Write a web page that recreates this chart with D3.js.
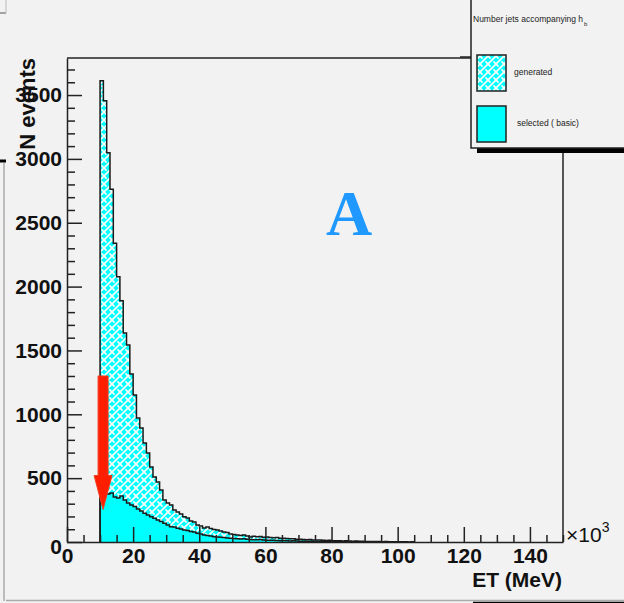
<!DOCTYPE html>
<html>
<head>
<meta charset="utf-8">
<script src="https://cdn.jsdelivr.net/npm/d3@7"></script>
<style>
html,body{margin:0;padding:0;background:#f2f2f2;}
svg{display:block;}
</style>
</head>
<body>
<svg id="chart" width="624" height="603"></svg>
<script>
// ---- data (ET in units of 10^3 MeV, 1-unit bins starting at 10) ----
const binStart = 10;
const binWidth = 1;
const generated = [3612,3456,3049,2762,2339,2078,1890,1637,1543,1316,1151,971,893,775,697,587,509,470,407,329,
  305,290,250,235,219,198,188,164,157,133,125,110,117,106,98,94,86,78,74,63,
  59,55,51,55,47,39,45,42,44,38,40,36,33,35,30,29,27,25,26,22,
  22,20,18,19,16,15,16,13,12,13,10,10,9,8,9,7,6,7,5,5,
  4,4,3,4,3,2,3,2,2,1,2,1,1,0,1];
const selected = [391,407,376,384,352,345,360,329,305,290,278,258,243,225,211,198,186,172,161,146,
  133,120,117,107,102,94,90,82,78,68,63,55,51,47,42,39,37,35,31,30,
  28,26,24,25,22,20,18,17,19,15,14,13,14,11,10,11,9,8,9,7,
  6,6,5,5,4,4,3,4,3,2,3,2,2,1,2,1,1,1,0,1];
const xTickLabels = [0,20,40,60,80,100,120,140];
const yTickLabels = [0,500,1000,1500,2000,2500,3000,3500];
const xDomain = [0,150];
const yDomain = [0,3790];
const legendTitle = "Number jets accompanying h";
const legendTitleSub = "b";
const legendLabels = ["generated","selected ( basic)"];
const xTitle = "ET (MeV)";
const yTitle = "N events";
const annotation = "A";
const arrowFromTo = [1300, 270]; // arrow at ET ~ 11, from N=1300 down to N=270

const svg = d3.select("#chart");
const W = 624, H = 603;
svg.append("rect").attr("width",W).attr("height",H).attr("fill","#f2f2f2");

const x = d3.scaleLinear().domain(xDomain).range([67,563]);
const y = d3.scaleLinear().domain(yDomain).range([542,58]);

// pattern for generated
const defs = svg.append("defs");
const pat = defs.append("pattern").attr("id","weave").attr("patternUnits","userSpaceOnUse")
  .attr("width",8).attr("height",8);
pat.append("rect").attr("width",8).attr("height",8).attr("fill","#00ffff");
pat.append("path").attr("d","M-1,9L9,-1").attr("stroke","#ffffff").attr("stroke-width",1.6);
pat.append("path").attr("d","M0,0L2.6,2.6M5.4,5.4L8,8").attr("stroke","#ffffff").attr("stroke-width",1.6);

// screenshot frame artifacts
svg.append("line").attr("x1",0).attr("x2",6).attr("y1",13).attr("y2",13).attr("stroke","#555").attr("stroke-width",1);
svg.append("line").attr("x1",6).attr("x2",6).attr("y1",0).attr("y2",13).attr("stroke","#bbb").attr("stroke-width",1);
svg.append("line").attr("x1",0).attr("x2",6).attr("y1",161).attr("y2",161).attr("stroke","#000").attr("stroke-width",3);
svg.append("line").attr("x1",4).attr("x2",4).attr("y1",163).attr("y2",601).attr("stroke","#aaa").attr("stroke-width",1.5);
svg.append("line").attr("x1",6).attr("x2",W).attr("y1",600.5).attr("y2",600.5).attr("stroke","#aaa").attr("stroke-width",1.5);
svg.append("line").attr("x1",473).attr("x2",W).attr("y1",602.5).attr("y2",602.5).attr("stroke","#000").attr("stroke-width",1.5);

// histogram helpers
function stepPoints(vals){
  const pts = [[x(binStart), y(0)]];
  vals.forEach((v,i)=>{
    pts.push([x(binStart+i*binWidth), y(v)]);
    pts.push([x(binStart+(i+1)*binWidth), y(v)]);
  });
  pts.push([x(binStart+vals.length*binWidth), y(0)]);
  return pts;
}
const line = d3.line();

const gPts = stepPoints(generated);
svg.append("path").attr("d", line(gPts)+"Z").attr("fill","url(#weave)").attr("stroke","none");
const sPts = stepPoints(selected);
svg.append("path").attr("d", line(sPts)+"Z").attr("fill","#00ffff").attr("stroke","none");
svg.append("path").attr("d", line(gPts)).attr("fill","none").attr("stroke","#1a1a1a").attr("stroke-width",1.5).attr("stroke-linejoin","miter");
svg.append("path").attr("d", line(sPts)).attr("fill","none").attr("stroke","#1a1a1a").attr("stroke-width",1.5).attr("stroke-linejoin","miter");

// frame
svg.append("path").attr("d",`M${x(0)},${y(yDomain[1])}L471,${y(yDomain[1])}`).attr("stroke","#222").attr("stroke-width",1.5).attr("fill","none");
svg.append("path").attr("d",`M${x(150)},153L${x(150)},${y(0)}`).attr("stroke","#222").attr("stroke-width",1.5).attr("fill","none");

const labelFont = "'Liberation Sans', Arial, Helvetica, sans-serif";

// y axis
const yAxis = d3.axisLeft(y).tickValues(yTickLabels).tickFormat(d3.format("d")).tickSize(-15).tickSizeOuter(0).tickPadding(5);
const gy = svg.append("g").attr("transform",`translate(${x(0)},0)`).call(yAxis);
gy.selectAll("text").attr("font-family",labelFont).attr("font-weight","bold").attr("font-size",21).attr("fill","#111");
gy.select(".domain").attr("stroke","#222").attr("stroke-width",1.5);
gy.selectAll(".tick line").attr("stroke","#222").attr("stroke-width",1.5);
gy.selectAll(".tick text").filter(d=>d===0).attr("dy","0.55em");
const yMinor = d3.axisLeft(y).tickValues(d3.range(0,yDomain[1],100).filter(v=>v%500!==0)).tickSize(-8).tickSizeOuter(0).tickFormat("");
const gym = svg.append("g").attr("transform",`translate(${x(0)},0)`).call(yMinor);
gym.select(".domain").remove();
gym.selectAll(".tick line").attr("stroke","#222").attr("stroke-width",1.5);

// x axis
const xAxis = d3.axisBottom(x).tickValues(xTickLabels).tickFormat(d3.format("d")).tickSize(-15).tickSizeOuter(0).tickPadding(6);
const gx = svg.append("g").attr("transform",`translate(0,${y(0)})`).call(xAxis);
gx.selectAll("text").attr("font-family",labelFont).attr("font-weight","bold").attr("font-size",21).attr("fill","#111");
gx.select(".domain").attr("stroke","#222").attr("stroke-width",1.5);
gx.selectAll(".tick line").attr("stroke","#222").attr("stroke-width",1.5);
const xMinor = d3.axisBottom(x).tickValues(d3.range(5,151,5).filter(v=>v%20!==0)).tickSize(-7).tickSizeOuter(0).tickFormat("");
const gxm = svg.append("g").attr("transform",`translate(0,${y(0)})`).call(xMinor);
gxm.select(".domain").remove();
gxm.selectAll(".tick line").attr("stroke","#222").attr("stroke-width",1.5);

// exponent
const ex = svg.append("text").attr("x",x(150)+3).attr("y",y(0)).attr("font-family",labelFont)
  .attr("font-size",21).attr("fill","#111");
ex.append("tspan").text("\u00d710");
ex.append("tspan").attr("font-size",14).attr("dy",-10).text("3");

// axis titles
svg.append("text").attr("x",x(150)-1).attr("y",587).attr("text-anchor","end").attr("font-family",labelFont)
  .attr("font-weight","bold").attr("font-size",21).attr("fill","#111").text(xTitle);
svg.append("text").attr("transform","translate(35,58) rotate(-90)").attr("text-anchor","end").attr("font-family",labelFont)
  .attr("font-weight","bold").attr("font-size",22).attr("fill","#111").text(yTitle);

// annotation
svg.append("text").attr("x",349).attr("y",235).attr("text-anchor","middle")
  .attr("font-family","'Liberation Serif','DejaVu Serif',serif").attr("font-weight","bold").attr("font-size",64)
  .attr("fill","#1f98ff").text(annotation);

// red arrow
const ax = x(binStart) + 3, aTop = y(arrowFromTo[0]), aTip = y(arrowFromTo[1]) + 2;
const headTop = aTip - 34;
svg.append("path")
  .attr("d",`M${ax-5},${aTop}L${ax+5},${aTop}L${ax+5},${headTop}L${ax+9},${headTop}L${ax},${aTip}L${ax-9},${headTop}L${ax-5},${headTop}Z`)
  .attr("fill","#ff1e00").attr("stroke","#f04020").attr("stroke-width",1);

// legend
const lg = svg.append("g");
lg.append("rect").attr("x",477).attr("y",148).attr("width",W-477).attr("height",5).attr("fill","#000");
lg.append("rect").attr("x",471).attr("y",-2).attr("width",W-471+5).attr("height",150).attr("fill","#f2f2f2")
  .attr("stroke","#222").attr("stroke-width",1.5);
lg.append("line").attr("x1",460).attr("x2",471).attr("y1",57).attr("y2",57).attr("stroke","#222").attr("stroke-width",1.5);
const lt = lg.append("text").attr("x",473).attr("y",22).attr("font-family",labelFont).attr("font-size",8.5).attr("fill","#222");
lt.append("tspan").text(legendTitle);
lt.append("tspan").attr("font-size",6).attr("dy",4).attr("dx",1).text(legendTitleSub);
lg.append("rect").attr("x",477).attr("y",55).attr("width",29).attr("height",36).attr("fill","url(#weave)").attr("stroke","#222").attr("stroke-width",1.5);
lg.append("rect").attr("x",477).attr("y",106).attr("width",29).attr("height",36).attr("fill","#00ffff").attr("stroke","#222").attr("stroke-width",1.5);
lg.append("text").attr("x",514).attr("y",75).attr("font-family",labelFont).attr("font-size",8.5).attr("fill","#222").text(legendLabels[0]);
lg.append("text").attr("x",517).attr("y",126).attr("font-family",labelFont).attr("font-size",8.5).attr("fill","#222").text(legendLabels[1]);
</script>
</body>
</html>
